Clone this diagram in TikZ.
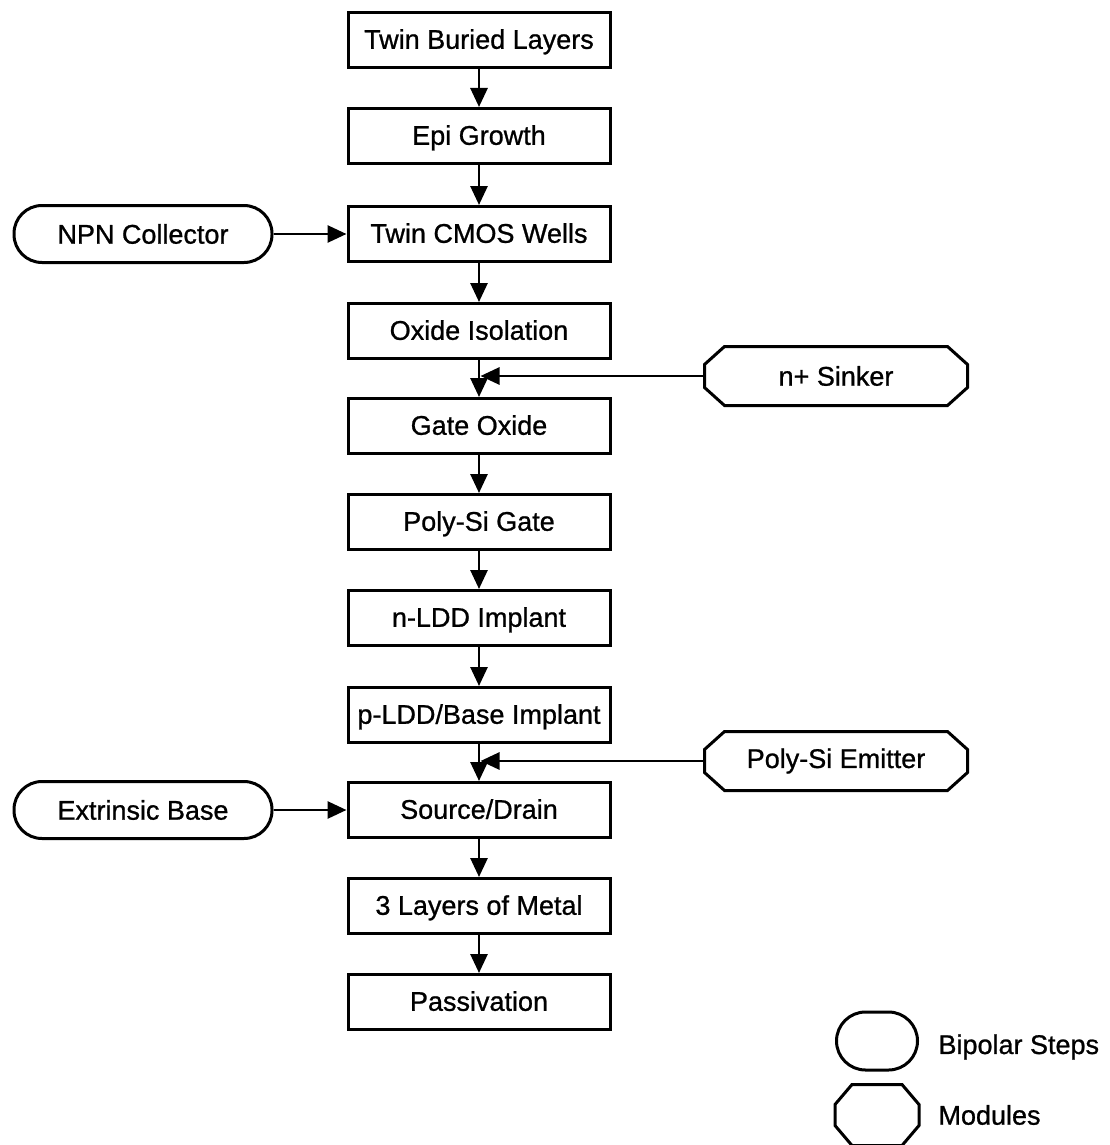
\documentclass[tikz,border=0pt]{standalone}
\usepackage{fontspec}
\setmainfont{Liberation Sans}[FakeBold=0.9]
\usetikzlibrary{arrows.meta}
\newcommand{\octaround}[3]{\draw ([xshift=#2]#1.north west) -- ([xshift=-#2]#1.north east) -- ([yshift=-#3]#1.north east) -- ([yshift=#3]#1.south east) -- ([xshift=-#2]#1.south east) -- ([xshift=#2]#1.south west) -- ([yshift=#3]#1.south west) -- ([yshift=-#3]#1.north west) -- cycle;}
\begin{document}
\begin{tikzpicture}[x=1pt,y=-1pt, line width=3pt,
  txt/.style={font=\fontsize{27}{30}\selectfont},
  stepbox/.style={draw, txt, minimum width=262pt, minimum height=55pt, inner sep=0pt, text depth=2pt},
  bip/.style={draw, txt, rounded corners=28pt, minimum width=258pt, minimum height=57pt, inner sep=0pt},
  modbox/.style={txt, minimum width=260pt, minimum height=56pt, inner sep=0pt},
  arr/.style={-{Triangle[length=19pt,width=17pt]}, line width=2.8pt}]
\useasboundingbox (0,0) rectangle (1110,1145);
\node[stepbox] (s1) at (479,40) {Twin Buried Layers};
\node[stepbox] (s2) at (479,136) {Epi Growth};
\node[stepbox] (s3) at (479,234) {Twin CMOS Wells};
\node[stepbox] (s4) at (479,331) {Oxide Isolation};
\node[stepbox] (s5) at (479,426) {Gate Oxide};
\node[stepbox] (s6) at (479,522) {Poly-Si Gate};
\node[stepbox] (s7) at (479,618) {n-LDD Implant};
\node[stepbox] (s8) at (479,715) {p-LDD/Base Implant};
\node[stepbox] (s9) at (479,810) {Source/Drain};
\node[stepbox] (s10) at (479,906) {3 Layers of Metal};
\node[stepbox] (s11) at (479,1002) {Passivation};
\node[bip] (npn) at (143,234) {NPN Collector};
\node[bip] (ext) at (143,810) {Extrinsic Base};
\node[modbox] (sink) at (836,376) {n+ Sinker};
\octaround{sink}{20pt}{18pt}
\node[modbox] (emit) at (836,761) {Poly-Si Emitter};
\octaround{emit}{20pt}{18pt}
\coordinate (j1) at (479,376);
\coordinate (j2) at (479,761);
\foreach \a/\b in {s1/s2,s2/s3,s3/s4,s4/s5,s5/s6,s6/s7,s7/s8,s8/s9,s9/s10,s10/s11}
  \draw[arr] (\a) -- (\b);
\draw[arr] (npn) -- (s3);
\draw[arr] (ext) -- (s9);
\draw[arr, shorten >=1.5pt] (sink.west) -- (j1);
\draw[arr, shorten >=1.5pt] (emit.west) -- (j2);
% legend
\node[draw, rounded corners=29pt, minimum width=81pt, minimum height=58pt, inner sep=0pt] (lb) at (877,1041) {};
\node[minimum width=81pt, minimum height=58pt, inner sep=0pt] (lm) at (877,1115) {};
\octaround{lm}{17pt}{20pt}
\node[txt, anchor=west, inner sep=0pt] (lbt) at (937,1047) {Bipolar Steps};
\node[txt, anchor=west, inner sep=0pt] (lmt) at (937,1115) {Modules};
\end{tikzpicture}
\end{document}
